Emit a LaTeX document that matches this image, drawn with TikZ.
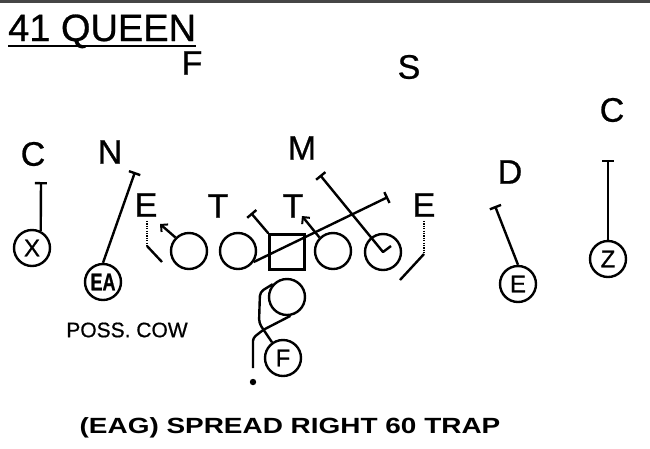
\documentclass[tikz,border=0pt]{standalone}
\usepackage{fontspec}
\setmainfont{Liberation Sans}
\newfontfamily\heavy{Liberation Sans}[FakeBold=0.7]
\usetikzlibrary{arrows.meta,calc}
\begin{document}
\begin{tikzpicture}[x=1pt,y=-1pt,
  lw/.style={line width=2.4pt},
  lbl/.style={inner sep=0pt,font=\heavy\fontsize{34}{34}\selectfont},
  man/.style={lw,circle,draw,minimum size=36pt,inner sep=0pt,font=\heavy\fontsize{24}{24}\selectfont},
  ctrbox/.style={lw,rectangle,draw,minimum size=35pt,inner sep=0pt},
  route/.style={lw,line join=round},
  blk/.style={route,-{Bar[width=12pt,line width=2.4pt]}},
  push/.style={route,-{Straight Barb[length=5pt,width=10pt,line width=2pt]}},
  dotl/.style={line width=2.4pt,dash pattern=on 1.2pt off 1.2pt}
]
\useasboundingbox (0,0) rectangle (650,448);
\fill[white] (0,0) rectangle (650,448);
\fill[gray!55!black] (0,0) rectangle (650,3);

% title
\node[inner sep=0pt,anchor=base west,font=\heavy\fontsize{38}{38}\selectfont] (title) at (8,41) {41 QUEEN};
\draw[line width=2.4pt] ($(title.base west)+(0,5)$) -- ($(title.base east)+(0,5)$);

% defense
\node[lbl] (F) at (192,63) {F};
\node[lbl] (S) at (409,67) {S};
\node[lbl] (C2) at (612,110) {C};
\node[lbl] (C1) at (33,154) {C};
\node[lbl] (N) at (110,152) {N};
\node[lbl] (M) at (302,148) {M};
\node[lbl] (D) at (510,172) {D};
\node[lbl] (E1) at (146,205) {E};
\node[lbl] (T1) at (218,206) {T};
\node[lbl] (T2) at (293,206) {T};
\node[lbl] (E2) at (424,205) {E};

% offense
\node[man] (LT) at (189,251) {};
\node[man] (LG) at (238,251) {};
\node[ctrbox] (Cn) at (287,252) {};
\node[man] (RG) at (333,251) {};
\node[man] (RT) at (383,252) {};
\node[man] (QB) at (287,297) {};
\node[man] (FB) at (283,358) {F};
\node[man] (X) at (32,248) {X};
\node[man] (EA) at (103,282) {\scalebox{0.75}[1]{\bfseries EA}};
\node[man] (TE) at (518,284) {E};
\node[man] (Z) at (608,259) {Z};

% route end points
\coordinate (xb) at (41,182);
\coordinate (nb) at (135,172);
\coordinate (db) at (495,206);
\coordinate (zb) at (608,160);
\coordinate (e1a) at (147,246);
\coordinate (e1b) at (162,262);
\coordinate (e2a) at (424,254);
\coordinate (e2b) at (400,280);
\coordinate (lta) at (160,224);
\coordinate (cb) at (251,213);
\coordinate (rga) at (302,216);
\coordinate (lgb) at (388,197);
\coordinate (rtt) at (391,246);
\coordinate (rtb) at (320,175);
\coordinate (pa1) at (260,292);
\coordinate (pa2) at (259,323);
\coordinate (pb1) at (263,330);
\coordinate (pb2) at (253,338);
\coordinate (pb3) at (253,368);
\coordinate (dot) at (253,382);

% receivers
\draw[blk] (X.63) -- (xb);
\draw[blk] (EA.north) -- (nb);
\draw[blk] (TE.north) -- (db);
\draw[blk] (Z.north) -- (zb);

% ends
\draw[dotl] ($(E1.south)+(1,4)$) -- (e1a);
\draw[route] (e1a) -- (e1b);
\draw[dotl] ($(E2.south)+(0,4)$) -- (e2a);
\draw[route] (e2a) -- (e2b);

% line
\draw[push] (LT.135) -- (lta);
\draw[blk] (Cn.north west) -- (cb);
\draw[push] (RG.135) -- (rga);
\draw[blk] (LG.-35) -- (lgb);
\draw[blk] (rtt) -- (RT.center) -- (rtb);

% backfield
\draw[route,rounded corners=4pt] (QB.138) -- (pa1) -- (pa2) -- (FB.125);
\draw[route,rounded corners=3pt] (QB.-80) -- (pb1) -- (pb2) -- (pb3);
\fill (dot) circle (3.2pt);

% notes
\node[inner sep=0pt,font=\heavy\fontsize{21}{21}\selectfont] (poss) at (127,330) {POSS. COW};
\node[inner sep=0pt,font=\bfseries\fontsize{22}{22}\selectfont] (call) at (290,428) {\scalebox{1.27}[1]{(EAG) SPREAD RIGHT 60 TRAP}};
\end{tikzpicture}
\end{document}
